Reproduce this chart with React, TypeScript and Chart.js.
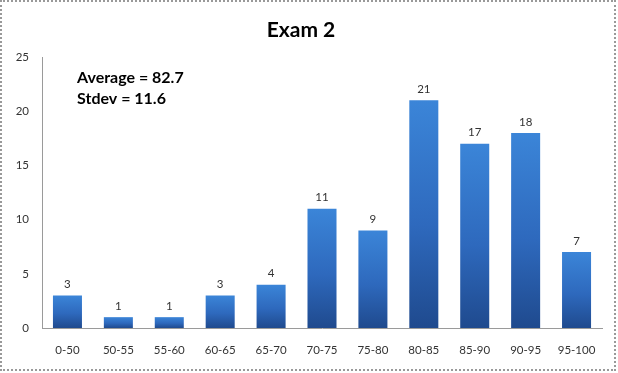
import React, { useEffect, useRef } from "react";
import { Chart, registerables } from "chart.js";

Chart.register(...registerables);

const categories = ["0-50", "50-55", "55-60", "60-65", "65-70", "70-75", "75-80", "80-85", "85-90", "90-95", "95-100"];
const counts = [3, 1, 1, 3, 4, 11, 9, 21, 17, 18, 7];
const titleText = "Exam 2";
const statsLines = ["Average = 82.7", "Stdev = 11.6"];
const yMax = 25;
const yStep = 5;

const FONT = "Lato, 'Open Sans', 'Liberation Sans', sans-serif";

const CHART_LEFT = 42;
const CHART_RIGHT = 602;
const CHART_TOP = 57;
const CHART_BOTTOM = 328;
const W = 618;
const H = 373;

const overlayPlugin = {
  id: "overlayText",
  afterDatasetsDraw(chart: any) {
    const ctx = chart.ctx;
    ctx.save();
    const meta = chart.getDatasetMeta(0);
    ctx.font = `11.5px ${FONT}`;
    ctx.fillStyle = "#333";
    ctx.textAlign = "center";
    ctx.textBaseline = "middle";
    meta.data.forEach((bar: any, i: number) => {
      ctx.fillText(String(counts[i]), bar.x, bar.y - 11);
    });
    ctx.font = `bold 16px ${FONT}`;
    ctx.fillStyle = "#000";
    ctx.textAlign = "left";
    statsLines.forEach((t, i) => {
      ctx.fillText(t, 77, 78 + i * 21);
    });
    ctx.restore();
  },
};

export default function App() {
  const ref = useRef<HTMLCanvasElement>(null);
  useEffect(() => {
    if (!ref.current) return;
    const chart = new Chart(ref.current, {
      type: "bar",
      data: {
        labels: categories,
        datasets: [
          {
            data: counts,
            categoryPercentage: 1,
            barPercentage: 0.57,
            backgroundColor: (c: any) => {
              const ch = c.chart;
              const ys = ch.scales && ch.scales.y;
              if (!ys || c.parsed == null || c.parsed.y == null) return "#2f6fc4";
              const top = ys.getPixelForValue(c.parsed.y);
              const bottom = ys.getPixelForValue(0);
              if (!isFinite(top) || !isFinite(bottom) || top === bottom) return "#2f6fc4";
              const g = ch.ctx.createLinearGradient(0, top, 0, bottom);
              g.addColorStop(0, "#3b85d8");
              g.addColorStop(0.55, "#2e69bd");
              g.addColorStop(1, "#1f4a8e");
              return g;
            },
            borderWidth: 0,
          },
        ],
      },
      options: {
        animation: false,
        responsive: false,
        maintainAspectRatio: false,
        layout: { padding: { left: 0, right: W - CHART_RIGHT, top: 18, bottom: 0 } },
        plugins: {
          legend: { display: false },
          tooltip: { enabled: false },
          title: {
            display: true,
            text: titleText,
            color: "#000",
            font: { family: FONT, size: 21, weight: "bold" },
            padding: { top: 0, bottom: CHART_TOP - 18 - 21 * 1.2 },
          },
        },
        scales: {
          x: {
            grid: { display: false },
            border: { display: true, color: "#9a9a9a", dash: [1, 1] },
            ticks: { color: "#333", font: { family: FONT, size: 11.5 }, padding: 7, maxRotation: 0, autoSkip: false },
            afterFit: (s: any) => {
              s.height = H - CHART_BOTTOM;
            },
          },
          y: {
            min: 0,
            max: yMax,
            grid: { display: false },
            border: { display: true, color: "#9a9a9a", dash: [1, 1] },
            ticks: { stepSize: yStep, color: "#333", font: { family: FONT, size: 11.5 }, padding: 5 },
            afterFit: (s: any) => {
              s.width = CHART_LEFT;
            },
          },
        },
      },
      plugins: [overlayPlugin],
    });
    return () => chart.destroy();
  }, []);
  return (
    <div style={{ position: "fixed", left: 0, top: 0, width: W, height: H, background: "#fff" }}>
      <canvas ref={ref} width={W} height={H} style={{ display: "block", width: W, height: H }} />
      <div
        style={{
          position: "absolute",
          left: 0,
          top: 0,
          width: 616,
          height: 371,
          boxSizing: "border-box",
          border: "2px dotted #999",
          pointerEvents: "none",
        }}
      />
    </div>
  );
}
